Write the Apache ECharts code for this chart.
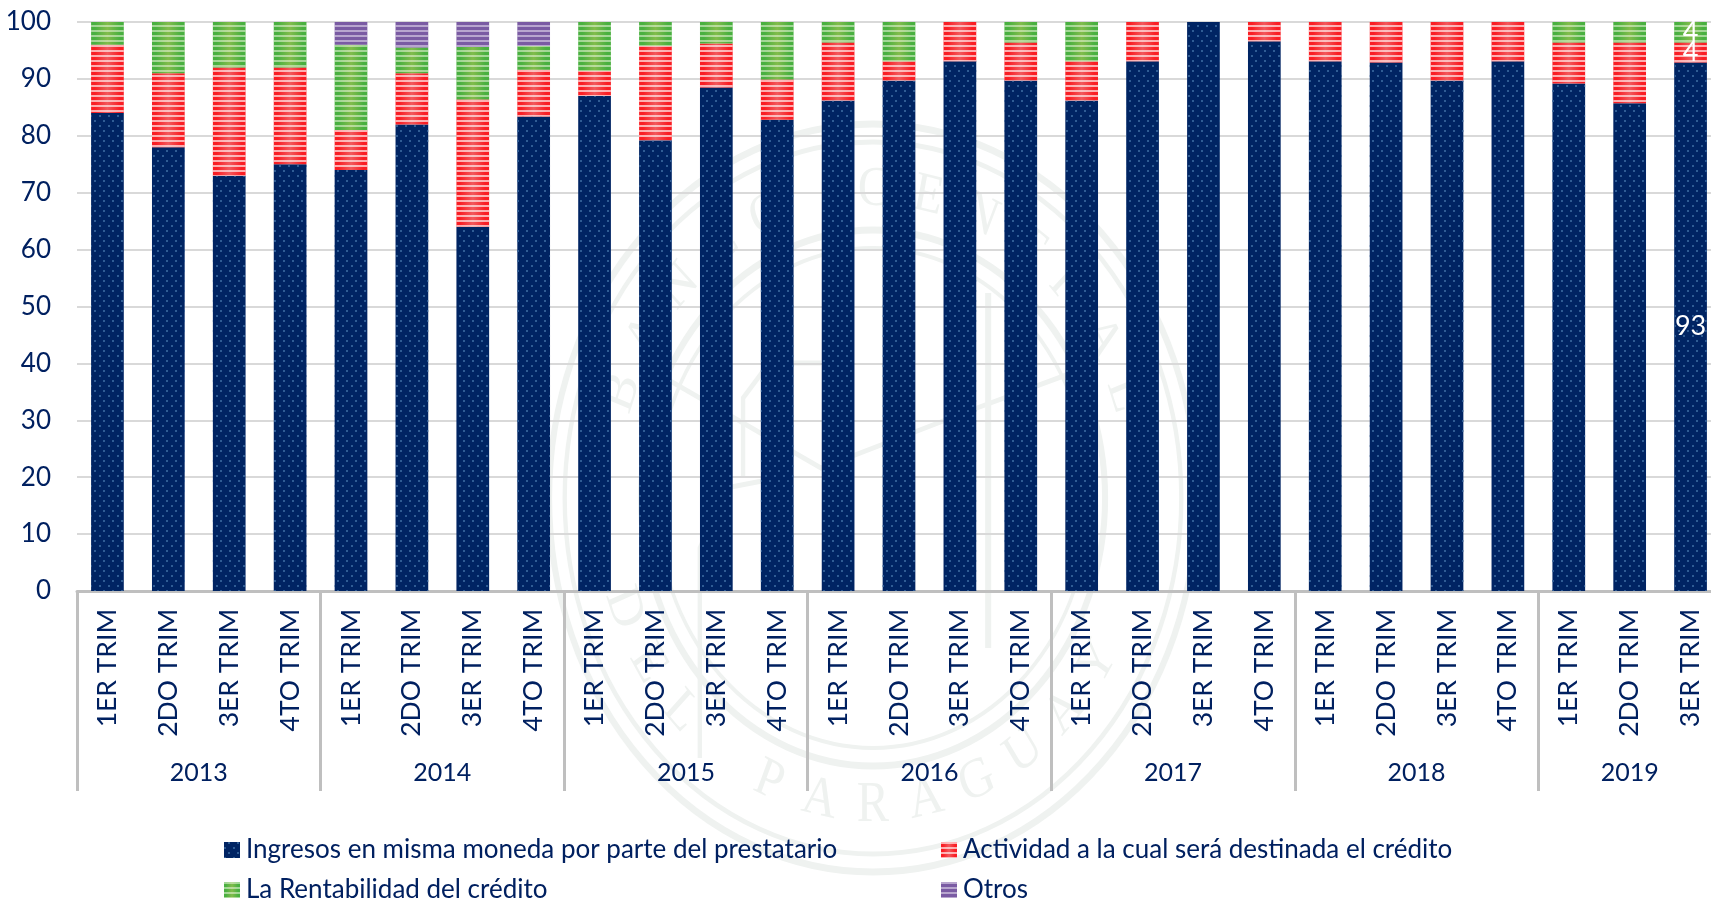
<!DOCTYPE html>
<html>
<head>
<meta charset="utf-8">
<style>html,body{margin:0;padding:0;background:#fff}#c{width:1711px;height:901px}</style>
<script src="https://cdn.jsdelivr.net/npm/echarts@6/dist/echarts.min.js"></script>
</head>
<body>
<div id="c"></div>
<script>
const quarters = [
 '1ER TRIM','2DO TRIM','3ER TRIM','4TO TRIM',
 '1ER TRIM','2DO TRIM','3ER TRIM','4TO TRIM',
 '1ER TRIM','2DO TRIM','3ER TRIM','4TO TRIM',
 '1ER TRIM','2DO TRIM','3ER TRIM','4TO TRIM',
 '1ER TRIM','2DO TRIM','3ER TRIM','4TO TRIM',
 '1ER TRIM','2DO TRIM','3ER TRIM','4TO TRIM',
 '1ER TRIM','2DO TRIM','3ER TRIM'];
const years = ['2013','2014','2015','2016','2017','2018','2019'];
const yearCenters = [2,6,10,14,18,22,25.5];
const yearEdges = [0,4,8,12,16,20,24,27];
const ingresos = [84,78,73,75, 74,82,64,83.4, 87,79.2,88.5,82.8, 86.2,89.7,93.1,89.7, 86.2,93.1,100,96.6, 93.1,92.9,89.7,93.1, 89.2,85.7,92.9];
const actividad = [12,13,19,17, 7,9,22.4,8.2, 4.4,16.6,7.7,7.1, 10.2,3.4,6.9,6.7, 6.9,6.9,0,3.4, 6.9,7.1,10.3,6.9, 7.2,10.7,3.5];
const rentabilidad = [4,9,8,8, 15,4.5,9.2,4.2, 8.6,4.2,3.8,10.1, 3.6,6.9,0,3.6, 6.9,0,0,0, 0,0,0,0, 3.6,3.6,3.6];
const otros = [0,0,0,0, 4,4.5,4.4,4.2, 0,0,0,0, 0,0,0,0, 0,0,0,0, 0,0,0,0, 0,0,0];
const names = ['Ingresos en misma moneda por parte del prestatario','Actividad a la cual será destinada el crédito','La Rentabilidad del crédito','Otros'];
const sealTop = 'BANCO CENTRAL';
const sealBottom = 'DEL PARAGUAY';

const FONT = 'Lato';
const INK = '#002060';
const AXIS = '#BFBFBF';
const SEAL = '#EFF2F0';
const lastIndex = quarters.length - 1;

function hGrad(edge, mid){
  return {type:'linear',x:0,y:0,x2:1,y2:0,colorStops:[{offset:0,color:edge},{offset:.12,color:edge},{offset:.5,color:mid},{offset:.88,color:edge},{offset:1,color:edge}]};
}
const stripes = c => ({symbol:'rect',symbolSize:1,dashArrayX:[1,0],dashArrayY:[2,2.2],color:c,rotation:0});
function makeSeries(name,data,color,decal){
  return {
    name, type:'bar', stack:'t', data, barWidth:32.7, xAxisIndex:0, yAxisIndex:0,
    itemStyle:{color,decal},
    label:{show:true,position:'inside',color:'#fff',fontFamily:FONT,fontSize:27,
      formatter:p=>(p.dataIndex===lastIndex && p.value>0)?String(Math.round(p.value)):''},
    labelLayout:{hideOverlap:false}
  };
}
function letter(ch,x,y,rotation){
  return {type:'text',x,y,rotation,silent:true,
    style:{text:ch,fill:SEAL,font:'56px "Liberation Serif"',textAlign:'center',textVerticalAlign:'middle'}};
}
function sealArcTop(text,r,startDeg,stepDeg){
  return text.split('').map((ch,i)=>{
    const a=(startDeg+i*stepDeg)*Math.PI/180;
    return letter(ch,r*Math.sin(a),-r*Math.cos(a),-a);
  });
}
function sealArcBottom(text,r,startDeg,stepDeg){
  return text.split('').map((ch,i)=>{
    const a=(startDeg+i*stepDeg)*Math.PI/180;
    return letter(ch,r*Math.sin(a),r*Math.cos(a),a);
  });
}
const ring = (r,w)=>({type:'circle',shape:{cx:0,cy:0,r},style:{fill:'none',stroke:SEAL,lineWidth:w},silent:true});
const seal = {
  type:'group',x:873,y:498,scaleX:.866,scaleY:1,z:-5,silent:true,
  children:[ring(374,7),ring(356,5),ring(268,7),ring(250,4),
    ...sealArcTop(sealTop,308,-70,11.7),
    ...sealArcBottom(sealBottom,308,-69,11.5),
    {type:'line',shape:{x1:133,y1:-205,x2:133,y2:150},style:{stroke:SEAL,lineWidth:7},silent:true},
    {type:'polyline',shape:{points:[[-150,-20],[-150,-100],[-120,-135],[-60,-135]]},style:{stroke:SEAL,lineWidth:5,fill:'none'},silent:true},
    {type:'polyline',shape:{points:[[-200,260],[-200,50],[-170,-10],[-110,-20]]},style:{stroke:SEAL,lineWidth:5,fill:'none'},silent:true},
    {type:'polyline',shape:{points:[[-240,-120],[-60,-30],[120,-90],[245,-130]]},style:{stroke:SEAL,lineWidth:5,fill:'none'},silent:true}
  ]
};

const legendText = {color:INK,fontFamily:FONT,fontSize:26,lineHeight:26,padding:[0,0,0,1]};
const chart = echarts.init(document.getElementById('c'),null,{renderer:'canvas'});
chart.setOption({
  animation:false,
  backgroundColor:'#fff',
  grid:{left:77,top:22,width:1644,height:569,containLabel:false,outerBoundsMode:'none'},
  graphic:{elements:[seal]},
  legend:[
    {left:224,top:837,height:120,width:680,orient:'vertical',data:[names[0],names[2]],itemWidth:16,itemHeight:16,itemGap:14,
     textStyle:legendText,icon:'rect',selectedMode:false,padding:0},
    {left:941,top:837,height:120,width:680,orient:'vertical',data:[names[1],names[3]],itemWidth:16,itemHeight:16,itemGap:14,
     textStyle:legendText,icon:'rect',selectedMode:false,padding:0}
  ],
  xAxis:[
    {type:'category',data:quarters,position:'bottom',
     axisLine:{show:true,lineStyle:{color:AXIS,width:3}},axisTick:{show:false},splitLine:{show:false},
     axisLabel:{interval:0,rotate:90,margin:18,color:INK,fontFamily:FONT,fontSize:26.5,hideOverlap:false}},
    {type:'value',min:0,max:27,position:'bottom',
     axisLine:{show:false},splitLine:{show:false},
     axisTick:{show:true,inside:false,length:200,lineStyle:{color:AXIS,width:3},customValues:yearEdges},
     axisLabel:{show:true,margin:169,color:INK,fontFamily:FONT,fontSize:25,hideOverlap:false,showMinLabel:true,showMaxLabel:true,customValues:yearCenters,
       formatter:v=>years[yearCenters.indexOf(v)]}}
  ],
  yAxis:{type:'value',min:0,max:100,interval:10,
    axisLine:{show:false},axisTick:{show:false},
    splitLine:{show:true,lineStyle:{color:'#D9D9D9',width:2}},
    axisLabel:{margin:26,color:INK,fontFamily:FONT,fontSize:26,padding:[2,0,0,0]}},
  series:[
    makeSeries(names[0],ingresos,'#002463',{symbol:'rect',symbolSize:1,dashArrayX:[[1.7,6.3],[0,4,1.7,2.3]],dashArrayY:[1.7,2.3],color:'#2F5C94',rotation:0}),
    makeSeries(names[1],actividad,hGrad('#FA1E24','#F2585C'),stripes('rgba(255,235,235,.7)')),
    makeSeries(names[2],rentabilidad,hGrad('#49B040','#82BC4C'),stripes('rgba(235,245,220,.55)')),
    makeSeries(names[3],otros,'#7A5BA3',stripes('rgba(235,228,242,.55)'))
  ]
});
</script>
</body>
</html>
